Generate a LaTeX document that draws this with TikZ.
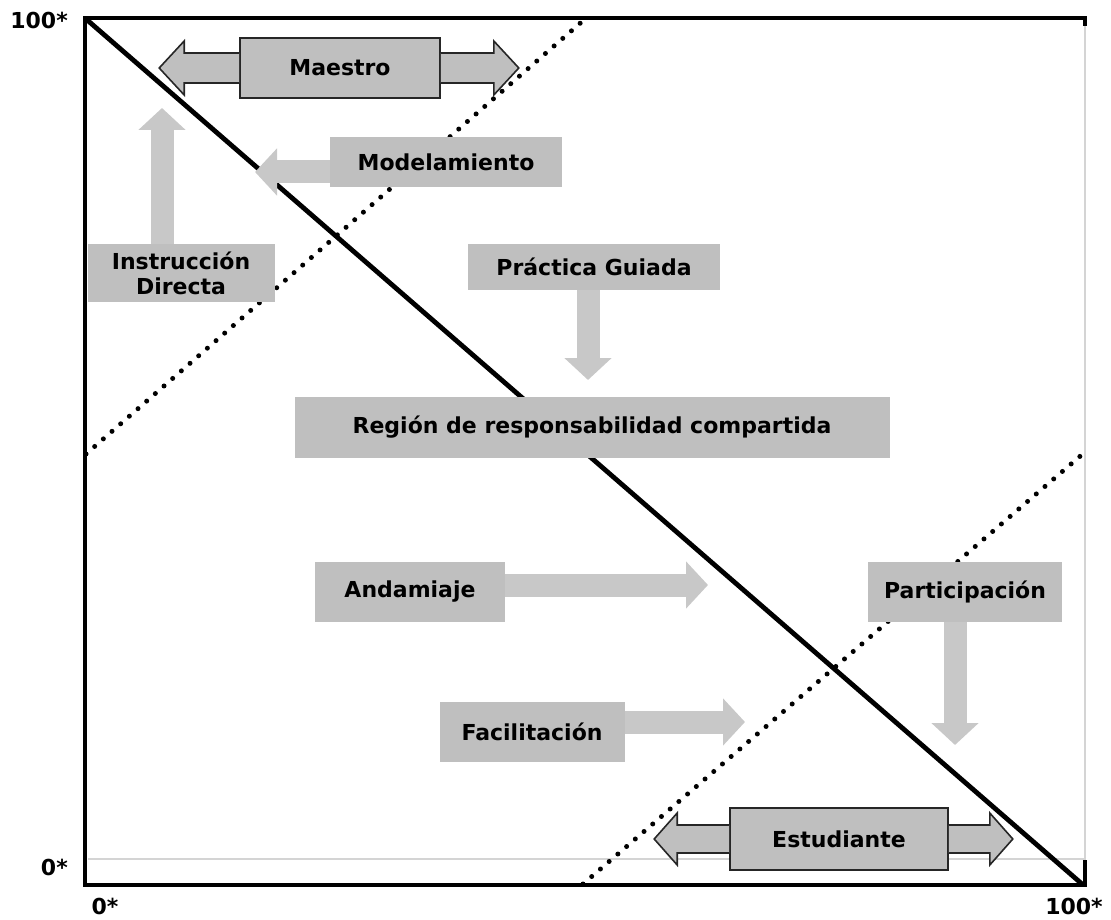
\documentclass[tikz,border=0pt]{standalone}
\usepackage{fontspec}
\setmainfont{DejaVu Sans}
\usetikzlibrary{arrows.meta, positioning, calc}
\definecolor{boxgray}{HTML}{BFBFBF}
\definecolor{arrgray}{HTML}{C8C8C8}
\definecolor{linegray}{HTML}{D4D4D4}

\begin{document}
\begin{tikzpicture}[x=1pt, y=-1pt,
    lbl/.style={fill=boxgray, inner sep=0pt, align=center,
        font=\fontsize{22}{25}\selectfont\bfseries},
    keybox/.style={lbl, draw=black!85, line width=1.6pt},
    garrow/.style={draw=arrgray, line width=23pt, -{Triangle[length=22pt, width=46pt]}},
    dblarrow/.style={fill=boxgray, draw=black!85, line width=1.6pt, line join=miter},
    axis/.style={line width=3.5pt},
    dots/.style={line width=5pt, line cap=round, dash pattern=on 0pt off 11.5pt},
    tick/.style={font=\fontsize{22}{25}\selectfont\bfseries, inner sep=0pt}]
    \useasboundingbox (0,0) rectangle (1111,920);

    % frame
    \draw[linegray, line width=1.2pt] (88,859) -- (1085,859) -- (1085,22);
    \draw[axis] (1085,26) -- (1085,18) -- (85,18) -- (85,885) -- (1085,885) -- (1085,860);
    \draw[line width=4.8pt] (86,19) -- (1082,884);
    \draw[dots] (86,454) -- (585,19);
    \draw[dots] (583,884) -- (1085,452);

    % axis labels
    \node[tick, anchor=east] (y100) at (68,20) {100*};
    \node[tick, anchor=east] (y0) at (68,867) {0*};
    \node[tick] (x0) at (105,906) {0*};
    \node[tick] (x100) at (1074,906) {100*};

    % boxes
    \node[keybox, minimum width=200pt, minimum height=60pt] (mae) at (340,68) {Maestro};
    \node[keybox, minimum width=218pt, minimum height=62pt] (est) at (839,839) {Estudiante};
    \node[lbl, minimum width=232pt, minimum height=50pt] (modl) at (446,162) {Modelamiento};
    \node[lbl, minimum width=187pt, minimum height=57pt] (inst) at (181,273) {Instrucción\\Directa};
    \node[lbl, minimum width=252pt, minimum height=45pt] (prac) at (594,267) {Práctica Guiada};
    \node[lbl, minimum width=595pt, minimum height=61pt] (reg) at (592,427) {Región de responsabilidad compartida};
    \node[lbl, minimum width=190pt, minimum height=60pt] (anda) at (410,592) {Andamiaje};
    \node[lbl, minimum width=194pt, minimum height=60pt] (part) at (965,592) {Participación};
    \node[lbl, minimum width=185pt, minimum height=60pt] (faci) at (532,732) {Facilitación};

    % tips of the gray arrows
    \coordinate (insttip) at (162,108);
    \coordinate (modltip) at (255,172);
    \coordinate (practip) at (588,380);
    \coordinate (andatip) at (708,585);
    \coordinate (parttip) at (955,745);
    \coordinate (facitip) at (745,722);

    \draw[garrow] (inst.north -| insttip) -- (insttip);
    \draw[garrow] (modl.west |- modltip) -- (modltip);
    \draw[garrow] (practip |- prac.south) -- (practip);
    \draw[garrow] (anda.east |- andatip) -- (andatip);
    \draw[garrow] (parttip |- part.south) -- (parttip);
    \draw[garrow] (faci.east |- facitip) -- (facitip);

    % double arrows
    \draw[dblarrow] ([yshift=15pt]mae.west) -- ++(-55,0) -- ++(0,-12) -- ++(-25,27)
        -- ++(25,27) -- ++(0,-12) -- ++(55,0);
    \draw[dblarrow] ([yshift=15pt]mae.east) -- ++(53,0) -- ++(0,-12) -- ++(25,27)
        -- ++(-25,27) -- ++(0,-12) -- ++(-53,0);
    \draw[dblarrow] ([yshift=14pt]est.west) -- ++(-52,0) -- ++(0,-12) -- ++(-23,26)
        -- ++(23,26) -- ++(0,-12) -- ++(52,0);
    \draw[dblarrow] ([yshift=14pt]est.east) -- ++(41,0) -- ++(0,-12) -- ++(23,26)
        -- ++(-23,26) -- ++(0,-12) -- ++(-41,0);
\end{tikzpicture}
\end{document}
